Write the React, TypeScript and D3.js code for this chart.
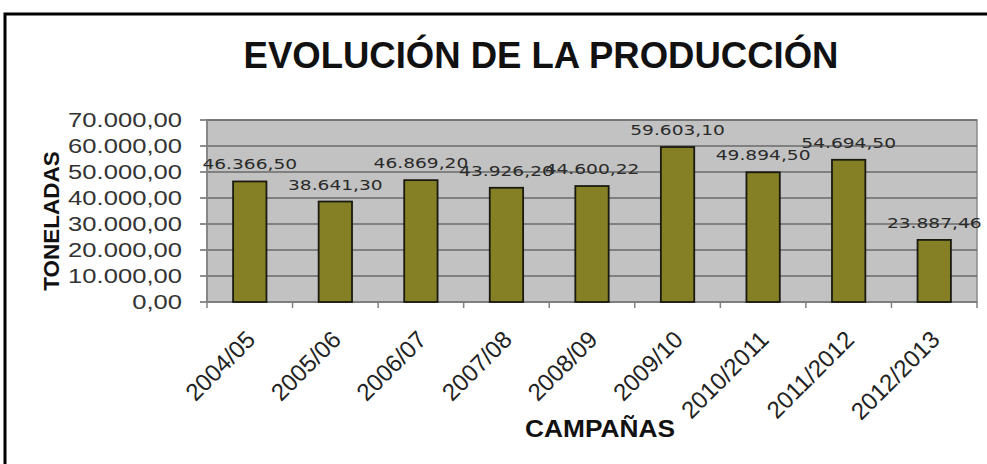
import React from "react";
import * as d3 from "d3";

const categories = ["2004/05", "2005/06", "2006/07", "2007/08", "2008/09", "2009/10", "2010/2011", "2011/2012", "2012/2013"];
const production = [46366.5, 38641.3, 46869.2, 43926.2, 44600.22, 59603.1, 49894.5, 54694.5, 23887.46];
const yTicks = [0, 10000, 20000, 30000, 40000, 50000, 60000, 70000];
const title = "EVOLUCIÓN DE LA PRODUCCIÓN";
const yTitle = "TONELADAS";
const xTitle = "CAMPAÑAS";

const W = 987, H = 464;
const plot = { left: 207, right: 977, top: 120, bottom: 302 };

const locale = d3.formatLocale({ decimal: ",", thousands: ".", grouping: [3], currency: ["", "€"] });
const fmt = locale.format(",.2f");

export default function App() {
  const x = d3.scaleBand<string>().domain(categories).range([plot.left, plot.right]).paddingInner(0.61).paddingOuter(0.305);
  const y = d3.scaleLinear().domain([0, 70000]).range([plot.bottom, plot.top]);
  const step = x.step();
  const boundaries = d3.range(categories.length + 1).map((i) => plot.left + i * step);

  return (
    <svg width={W} height={H} style={{ position: "absolute", left: 0, top: 0, background: "#fff" }}>
      <rect x={5} y={14} width={1000} height={470} fill="#fff" stroke="#000" strokeWidth={3} />
      <text x={541} y={68} textAnchor="middle" fontFamily="Liberation Sans, Arial, sans-serif" fontWeight="bold" fontSize={36.5} fill="#111">
        {title}
      </text>
      <rect x={plot.left} y={plot.top} width={plot.right - plot.left} height={plot.bottom - plot.top} fill="#c2c2c2" stroke="#8a8a8a" strokeWidth={1.5} />
      {yTicks.map((t) => (
        <g key={t}>
          <line x1={plot.left} x2={plot.right} y1={y(t)} y2={y(t)} stroke="#6a6a6a" strokeWidth={1.5} />
          <line x1={plot.left - 7} x2={plot.left} y1={y(t)} y2={y(t)} stroke="#6a6a6a" strokeWidth={1.5} />
          <g transform={`translate(182,${y(t) + 7}) scale(1.28,1)`}>
            <text x={0} y={0} textAnchor="end" fontFamily="Liberation Sans, Arial, sans-serif" fontSize={20} fill="#333">
              {fmt(t)}
            </text>
          </g>
        </g>
      ))}
      <line x1={plot.left} x2={plot.left} y1={plot.top} y2={plot.bottom} stroke="#808080" strokeWidth={1.5} />
      <line x1={plot.left} x2={plot.right} y1={plot.bottom} y2={plot.bottom} stroke="#808080" strokeWidth={1.5} />
      {boundaries.map((b, i) => (
        <line key={i} x1={b} x2={b} y1={plot.bottom} y2={plot.bottom + 6} stroke="#808080" strokeWidth={1.5} />
      ))}
      {categories.map((c, i) => (
        <rect key={c} x={x(c)} y={y(production[i])} width={x.bandwidth()} height={plot.bottom - y(production[i])} fill="#857f26" stroke="#1a1a10" strokeWidth={1.8} />
      ))}
      {categories.map((c, i) => {
        const cx = (x(c) as number) + x.bandwidth() / 2;
        return (
          <g key={c} transform={`translate(${cx},${y(production[i]) - 12}) scale(1.38,1)`}>
            <text x={0} y={0} textAnchor="middle" fontFamily="DejaVu Sans, Verdana, sans-serif" fontSize={13.5} fill="#2a2a2a">
              {fmt(production[i])}
            </text>
          </g>
        );
      })}
      {categories.map((c) => {
        const cx = (x(c) as number) + x.bandwidth() / 2;
        return (
          <text key={c} transform={`translate(${cx + 7},${341}) rotate(-45)`} textAnchor="end" fontFamily="Liberation Sans, Arial, sans-serif" fontSize={24} fill="#222">
            {c}
          </text>
        );
      })}
      <g transform={`translate(600,437) scale(1.12,1)`}>
        <text x={0} y={0} textAnchor="middle" fontFamily="Liberation Sans, Arial, sans-serif" fontWeight="bold" fontSize={23.5} fill="#111">
          {xTitle}
        </text>
      </g>
      <g transform={`translate(59,221) rotate(-90)`}>
        <text x={0} y={0} textAnchor="middle" fontFamily="Liberation Sans, Arial, sans-serif" fontWeight="bold" fontSize={22.5} fill="#111">
          {yTitle}
        </text>
      </g>
    </svg>
  );
}
